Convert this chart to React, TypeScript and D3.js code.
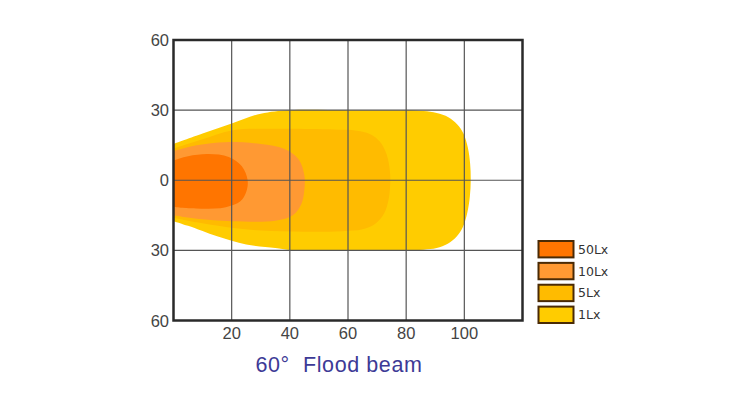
import React, { useRef, useEffect } from 'react';
import * as d3 from 'd3';

// beam outlines, distance (x) vs spread (y)
const lux1 = [
  [0, 15.5], [10, 20], [20, 24.3], [30, 28.5], [40, 30], [60, 30], [80, 29.9], [86, 29.6],
  [90.5, 28.8], [94.5, 27], [97.5, 24], [99.7, 20], [101.2, 14], [102, 7], [102.2, 0],
  [101.9, -7], [101, -14], [99.5, -20], [97.3, -24.2], [94.3, -27.2], [90.5, -29],
  [86, -29.7], [80, -30], [60, -30], [40, -29.8], [35, -29], [25, -27.5], [15, -24],
  [5, -19.5], [0, -17.5],
];
const lux5 = [
  [0, 13.5], [10, 17.5], [20, 21.3], [35, 22], [55, 21.7], [63, 21.2], [67.5, 19.8],
  [71, 16.5], [73.3, 11], [74.4, 4], [74.5, -2], [74, -8], [72.5, -14], [69.5, -18.5],
  [65, -21], [58, -21.8], [45, -22], [30, -21.5], [18, -20], [8, -18], [0, -16],
];
const lux10 = [
  [0, 12.5], [8, 15], [18, 16.3], [30, 15.5], [38, 13.5], [43, 9], [45, 2], [45, -4],
  [44, -10], [41, -15], [35, -17.3], [20, -17.5], [8, -16.5], [0, -15],
];
const lux50 = [
  [0, 8.5], [5, 10.3], [12, 11.2], [19, 10], [23.5, 6], [25.5, 0], [25, -5], [23, -9],
  [18, -11.5], [10, -12.2], [3, -11.8], [0, -11.3],
];

const legendLabels = ['50Lx', '10Lx', '5Lx', '1Lx'];
const colors = ['#FF7500', '#FF9933', '#FFBB00', '#FFCC00'];
const xTicks = [20, 40, 60, 80, 100];
const yTicks = [60, 30, 0, -30, -60];
const title = '60°  Flood beam';

const App = () => {
  const ref = useRef(null);

  useEffect(() => {
    const svg = d3.select(ref.current);
    svg.selectAll('*').remove();

    const x = d3.scaleLinear().domain([0, 120]).range([173.5, 522.5]);
    const y = d3.scaleLinear().domain([60, -60]).range([40, 320.5]);

    svg.append('defs').append('clipPath').attr('id', 'plotclip')
      .append('rect')
      .attr('x', x(0)).attr('y', y(60))
      .attr('width', x(120) - x(0)).attr('height', y(-60) - y(60));

    const line = d3.line()
      .x((d) => x(d[0]))
      .y((d) => y(d[1]))
      .curve(d3.curveCatmullRom.alpha(0.5));

    // draw outermost first
    const shapes = [lux1, lux5, lux10, lux50];
    const g = svg.append('g').attr('clip-path', 'url(#plotclip)');
    shapes.forEach((s, i) => {
      g.append('path')
        .attr('d', line(s) + 'Z')
        .attr('fill', colors[3 - i]);
    });

    // grid
    const grid = svg.append('g').attr('stroke', '#555').attr('stroke-width', 1.2);
    xTicks.forEach((t) => {
      grid.append('line')
        .attr('x1', x(t)).attr('x2', x(t))
        .attr('y1', y(60)).attr('y2', y(-60));
    });
    [30, 0, -30].forEach((t) => {
      grid.append('line')
        .attr('x1', x(0)).attr('x2', x(120))
        .attr('y1', y(t)).attr('y2', y(t));
    });

    // frame
    svg.append('rect')
      .attr('x', x(0)).attr('y', y(60))
      .attr('width', x(120) - x(0)).attr('height', y(-60) - y(60))
      .attr('fill', 'none')
      .attr('stroke', '#2a2a2a')
      .attr('stroke-width', 2.5);

    const font = 'Liberation Sans, Arial, sans-serif';

    svg.append('g').selectAll('text')
      .data(yTicks)
      .join('text')
      .attr('x', 169)
      .attr('y', (d) => y(d) + 6)
      .attr('text-anchor', 'end')
      .attr('font-family', font)
      .attr('font-size', 16.5)
      .attr('fill', '#444')
      .text((d) => Math.abs(d));

    svg.append('g').selectAll('text')
      .data(xTicks)
      .join('text')
      .attr('x', (d) => x(d))
      .attr('y', 339)
      .attr('text-anchor', 'middle')
      .attr('font-family', font)
      .attr('font-size', 16.5)
      .attr('fill', '#444')
      .text((d) => d);

    svg.append('text')
      .attr('x', 339)
      .attr('y', 372)
      .attr('text-anchor', 'middle')
      .attr('font-family', font)
      .attr('font-size', 21.5)
      .attr('letter-spacing', 0.6)
      .attr('fill', '#3d3a96')
      .attr('xml:space', 'preserve')
      .style('white-space', 'pre')
      .text(title);

    // legend
    const leg = svg.append('g');
    const rowY = d3.scaleBand().domain(legendLabels).range([241, 323]).paddingInner(0.25);
    legendLabels.forEach((label, i) => {
      leg.append('rect')
        .attr('x', 538.5)
        .attr('y', rowY(label))
        .attr('width', 35)
        .attr('height', rowY.bandwidth())
        .attr('fill', colors[i])
        .attr('stroke', '#4a2a05')
        .attr('stroke-width', 2);
      leg.append('text')
        .attr('x', 578)
        .attr('y', rowY(label) + rowY.bandwidth() / 2 + 4.5)
        .attr('font-family', 'DejaVu Sans, Verdana, sans-serif')
        .attr('font-size', 12.5)
        .attr('fill', '#333')
        .text(label);
    });
  }, []);

  return (
    <svg
      ref={ref}
      width={751}
      height={399}
      style={{ position: 'absolute', left: 0, top: 0, background: '#fff' }}
    />
  );
};

export default App;
